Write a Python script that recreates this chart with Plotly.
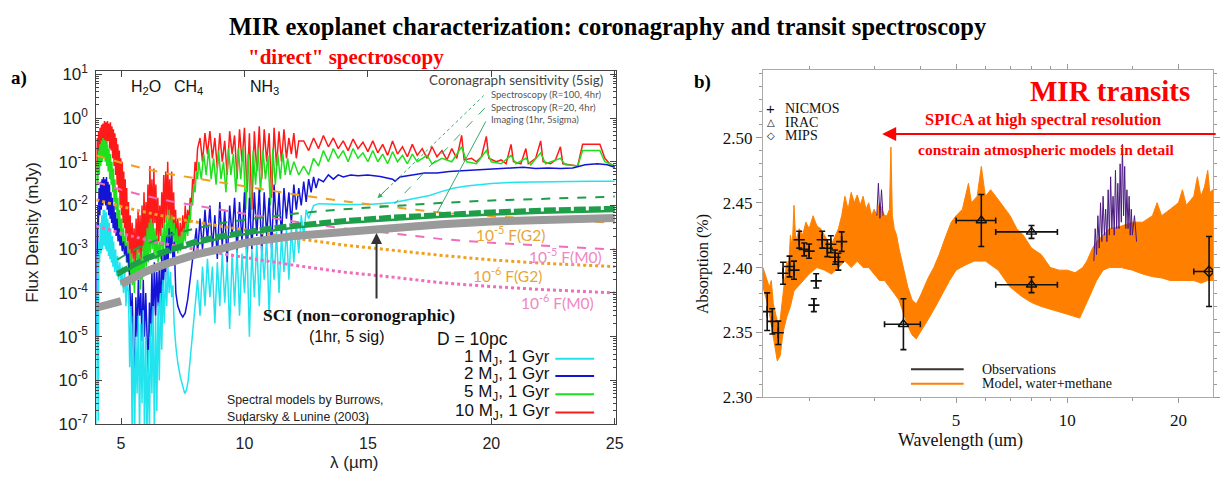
import math
import plotly.graph_objects as go

# ---------------- panel a) model spectra at 10 pc : (wavelength um, flux mJy) ----------------
spec_10mj = [
    (4.00, 0.06), (4.03, 0.35), (4.06, 0.08), (4.09, 0.5), (4.12, 0.12), (4.15, 0.6), (4.18, 0.15),
    (4.21, 0.7), (4.24, 0.2), (4.27, 0.75), (4.30, 0.25), (4.33, 0.85), (4.36, 0.3), (4.39, 0.8),
    (4.42, 0.25), (4.45, 0.85), (4.48, 0.3), (4.51, 0.75), (4.54, 0.2), (4.57, 0.8), (4.60, 0.18),
    (4.63, 0.65), (4.66, 0.12), (4.69, 0.55), (4.72, 0.08), (4.75, 0.45), (4.78, 0.05), (4.81, 0.35),
    (4.84, 0.03), (4.87, 0.25), (4.90, 0.02), (4.93, 0.18), (4.96, 0.01), (4.99, 0.12), (5.02, 0.006),
    (5.05, 0.1), (5.08, 0.004), (5.11, 0.06), (5.14, 0.003), (5.17, 0.04), (5.20, 0.002),
    (5.23, 0.025), (5.26, 0.0015), (5.30, 0.012),
    (5.33, 0.0008), (5.37, 0.006), (5.41, 0.0005), (5.45, 0.004), (5.49, 0.0006), (5.53, 0.003),
    (5.57, 0.0004), (5.61, 0.005), (5.65, 0.0006), (5.69, 0.008), (5.73, 0.0008), (5.77, 0.006),
    (5.81, 0.0005), (5.85, 0.01), (5.89, 0.0009), (5.93, 0.02), (5.97, 0.001), (6.01, 0.012),
    (6.05, 0.0015), (6.09, 0.03), (6.13, 0.002), (6.17, 0.08), (6.21, 0.003), (6.25, 0.04),
    (6.29, 0.002), (6.33, 0.07), (6.37, 0.004), (6.41, 0.03), (6.45, 0.002), (6.49, 0.015),
    (6.53, 0.0015), (6.57, 0.01), (6.61, 0.002), (6.65, 0.02), (6.69, 0.003), (6.73, 0.05),
    (6.77, 0.004), (6.81, 0.06), (6.85, 0.005), (6.89, 0.1), (6.93, 0.006), (6.97, 0.04),
    (7.01, 0.004), (7.05, 0.06), (7.09, 0.003), (7.13, 0.02), (7.17, 0.002), (7.21, 0.008),
    (7.25, 0.0015), (7.30, 0.005), (7.35, 0.0012), (7.40, 0.004), (7.45, 0.0015), (7.50, 0.006),
    (7.55, 0.002), (7.60, 0.01), (7.65, 0.003), (7.70, 0.008), (7.75, 0.004), (7.80, 0.015),
    (7.85, 0.01), (7.90, 0.04), (7.95, 0.03), (8.00, 0.1), (8.05, 0.06), (8.10, 0.2),
    (8.2, 0.35), (8.3, 0.1), (8.4, 0.45), (8.5, 0.15), (8.6, 0.5), (8.7, 0.12), (8.8, 0.35),
    (8.9, 0.07), (9.0, 0.45), (9.1, 0.1), (9.2, 0.3), (9.3, 0.05), (9.4, 0.5), (9.5, 0.15),
    (9.6, 0.4), (9.7, 0.04), (9.8, 0.55), (9.9, 0.1), (10.0, 0.6), (10.1, 0.02), (10.2, 0.45),
    (10.3, 0.008), (10.4, 0.5), (10.5, 0.06), (10.6, 0.65), (10.7, 0.04), (10.8, 0.55), (10.9, 0.1),
    (11.0, 0.45), (11.1, 0.015), (11.2, 0.6), (11.3, 0.08), (11.4, 0.5), (11.5, 0.1), (11.6, 0.55),
    (11.7, 0.12), (11.8, 0.35), (11.9, 0.15), (12.0, 0.45), (12.1, 0.12), (12.2, 0.3),
    (12.4, 0.3), (12.6, 0.18), (12.8, 0.35), (13.0, 0.2), (13.2, 0.4), (13.4, 0.22), (13.6, 0.35),
    (13.8, 0.2), (14.0, 0.3), (14.2, 0.18), (14.4, 0.33), (14.6, 0.2), (14.8, 0.28), (15.0, 0.17),
    (15.2, 0.3), (15.4, 0.16), (15.6, 0.25), (15.8, 0.14), (16.0, 0.3), (16.2, 0.15), (16.4, 0.22),
    (16.6, 0.13), (16.8, 0.25), (17.0, 0.14), (17.2, 0.2), (17.4, 0.12), (17.6, 0.22), (17.8, 0.13),
    (18.0, 0.18), (18.2, 0.11), (18.4, 0.2), (18.6, 0.12), (18.8, 0.4), (18.9, 0.11), (19.2, 0.12),
    (19.4, 0.1), (19.6, 0.13), (19.8, 0.38), (19.9, 0.12), (20.2, 0.1), (20.4, 0.11), (20.6, 0.09),
    (20.8, 0.25), (20.9, 0.1), (21.2, 0.09), (21.4, 0.2), (21.5, 0.09), (21.8, 0.12), (22.0, 0.3),
    (22.1, 0.1), (22.4, 0.09), (22.6, 0.11), (22.8, 0.22), (22.9, 0.09), (23.2, 0.085), (23.5, 0.08),
    (23.7, 0.25), (24.4, 0.25), (24.6, 0.12), (24.8, 0.09), (25.0, 0.08),
]

spec_5mj = [
    (4.00, 0.02), (4.03, 0.1), (4.06, 0.03), (4.09, 0.18), (4.12, 0.05), (4.15, 0.25), (4.18, 0.08),
    (4.21, 0.3), (4.24, 0.1), (4.27, 0.35), (4.30, 0.12), (4.33, 0.32), (4.36, 0.1), (4.39, 0.3),
    (4.42, 0.08), (4.45, 0.25), (4.48, 0.06), (4.51, 0.2), (4.54, 0.04), (4.57, 0.15), (4.60, 0.03),
    (4.63, 0.1), (4.66, 0.02), (4.69, 0.07), (4.72, 0.012), (4.75, 0.04), (4.78, 0.008), (4.81, 0.025),
    (4.84, 0.005), (4.87, 0.015), (4.90, 0.003), (4.94, 0.008), (4.98, 0.002), (5.02, 0.005),
    (5.06, 0.0012), (5.10, 0.003), (5.14, 0.0008), (5.18, 0.002), (5.22, 0.0005),
    (5.26, 0.0015), (5.30, 0.0003), (5.34, 0.001), (5.38, 0.0002), (5.42, 0.0008), (5.46, 0.00015),
    (5.50, 0.0006), (5.54, 0.0001), (5.58, 0.0005), (5.62, 0.0002), (5.66, 0.001), (5.70, 0.0003),
    (5.74, 0.0008), (5.78, 0.00012), (5.82, 0.0006), (5.86, 0.0002), (5.90, 0.0012), (5.94, 0.0003),
    (5.98, 0.002), (6.02, 0.0004), (6.06, 0.003), (6.10, 0.0005), (6.14, 0.004), (6.18, 0.0008),
    (6.22, 0.005), (6.26, 0.001), (6.30, 0.004), (6.34, 0.0008), (6.38, 0.003), (6.42, 0.0006),
    (6.46, 0.002), (6.50, 0.0005), (6.55, 0.0015), (6.60, 0.0006), (6.65, 0.003), (6.70, 0.0008),
    (6.75, 0.004), (6.80, 0.001), (6.85, 0.006), (6.90, 0.0015), (6.95, 0.008), (7.00, 0.002),
    (7.05, 0.006), (7.10, 0.0015), (7.15, 0.004), (7.20, 0.001), (7.25, 0.003), (7.30, 0.0008),
    (7.35, 0.002), (7.40, 0.0009), (7.45, 0.0025), (7.50, 0.001), (7.55, 0.003), (7.60, 0.0015),
    (7.65, 0.004), (7.70, 0.002), (7.75, 0.006), (7.80, 0.004), (7.85, 0.012), (7.90, 0.01),
    (7.95, 0.03), (8.00, 0.02), (8.05, 0.06), (8.10, 0.04), (8.15, 0.1),
    (8.25, 0.04), (8.35, 0.15), (8.45, 0.05), (8.55, 0.2), (8.65, 0.04), (8.75, 0.12), (8.85, 0.03),
    (8.95, 0.18), (9.05, 0.04), (9.15, 0.1), (9.25, 0.02), (9.35, 0.2), (9.45, 0.05), (9.55, 0.15),
    (9.65, 0.02), (9.75, 0.2), (9.85, 0.04), (9.95, 0.22), (10.05, 0.008), (10.15, 0.15),
    (10.25, 0.005), (10.35, 0.18), (10.45, 0.03), (10.55, 0.2), (10.65, 0.02), (10.75, 0.18),
    (10.85, 0.04), (10.95, 0.14), (11.05, 0.01), (11.15, 0.2), (11.25, 0.03), (11.35, 0.15),
    (11.45, 0.04), (11.55, 0.16), (11.65, 0.05), (11.75, 0.12), (11.85, 0.05), (12.0, 0.1),
    (12.2, 0.05), (12.4, 0.08), (12.6, 0.05), (12.8, 0.12), (13.0, 0.08), (13.2, 0.18), (13.4, 0.1),
    (13.6, 0.2), (13.8, 0.12), (14.0, 0.18), (14.2, 0.1), (14.4, 0.2), (14.6, 0.12), (14.8, 0.16),
    (15.0, 0.1), (15.2, 0.18), (15.4, 0.1), (15.6, 0.15), (15.8, 0.09), (16.0, 0.17), (16.2, 0.1),
    (16.4, 0.14), (16.6, 0.09), (16.8, 0.15), (17.0, 0.1), (17.4, 0.14), (17.6, 0.09), (18.0, 0.12),
    (18.4, 0.1), (18.8, 0.22), (19.0, 0.1), (19.4, 0.09), (19.8, 0.18), (20.0, 0.1), (20.4, 0.09),
    (20.8, 0.14), (21.0, 0.09), (21.4, 0.12), (21.6, 0.085), (22.0, 0.16), (22.2, 0.09), (22.8, 0.12),
    (23.0, 0.085), (23.5, 0.08), (23.7, 0.18), (24.4, 0.18), (24.6, 0.1), (25.0, 0.08),
]

spec_2mj = [
    (4.00, 1e-5), (4.02, 0.004), (4.04, 3e-5), (4.06, 0.01), (4.08, 0.003), (4.11, 0.025),
    (4.14, 0.006), (4.17, 0.035), (4.20, 0.008), (4.23, 0.04), (4.26, 0.01), (4.29, 0.045),
    (4.32, 0.012), (4.35, 0.04), (4.38, 0.01), (4.41, 0.045), (4.44, 0.008), (4.47, 0.035),
    (4.50, 0.006), (4.53, 0.03), (4.56, 0.005), (4.59, 0.02), (4.62, 0.004), (4.65, 0.015),
    (4.68, 0.003), (4.71, 0.01), (4.74, 0.0025), (4.77, 0.007), (4.80, 0.002), (4.84, 0.005),
    (4.88, 0.0015), (4.92, 0.003), (4.96, 0.0012), (5.00, 0.002), (5.05, 0.0009), (5.10, 0.0015),
    (5.15, 0.0007), (5.20, 0.0012), (5.25, 0.0005), (5.30, 0.0008),
    (5.35, 2e-4), (5.40, 2e-5), (5.45, 1e-4), (5.50, 5e-6), (5.55, 1.5e-6), (5.60, 8e-5),
    (5.65, 1e-5), (5.70, 2e-4), (5.75, 3e-5), (5.80, 1e-4), (5.85, 8e-6), (5.90, 2e-4),
    (5.95, 1e-5), (6.00, 1e-4), (6.05, 5e-6), (6.10, 1.5e-6), (6.15, 6e-5), (6.20, 1e-5),
    (6.25, 3e-4), (6.30, 2e-5), (6.35, 5e-4), (6.40, 3e-5), (6.45, 3e-4), (6.50, 5e-5),
    (6.55, 4e-4), (6.60, 3e-5), (6.65, 8e-4), (6.70, 1e-4), (6.75, 1e-3), (6.80, 2e-4),
    (6.85, 2e-3), (6.90, 4e-4), (6.95, 3e-3), (7.00, 8e-4), (7.05, 2.5e-3), (7.10, 6e-4),
    (7.15, 1.5e-3), (7.22, 1e-4), (7.30, 5e-5), (7.40, 3.5e-5), (7.50, 2.8e-5), (7.60, 3.5e-5),
    (7.70, 7e-5), (7.80, 2e-4), (7.90, 6e-4), (8.00, 2e-3),
    (8.05, 3e-3), (8.1, 8e-4), (8.2, 5e-3), (8.3, 1e-3), (8.4, 8e-3), (8.5, 1.5e-3), (8.6, 0.01),
    (8.7, 1e-3), (8.8, 6e-3), (8.9, 6e-4), (9.0, 0.012), (9.1, 1.2e-3), (9.2, 8e-3), (9.3, 5e-4),
    (9.4, 0.01), (9.5, 2e-3), (9.6, 0.015), (9.7, 8e-4), (9.8, 0.012), (9.9, 1.5e-3), (10.0, 0.02),
    (10.1, 5e-4), (10.2, 0.015), (10.3, 1e-3), (10.4, 0.02), (10.5, 2e-3), (10.6, 0.025),
    (10.7, 8e-4), (10.8, 0.02), (10.9, 2e-3), (11.0, 0.015), (11.1, 1e-3), (11.2, 0.03),
    (11.3, 3e-3), (11.4, 0.02), (11.5, 2e-3), (11.6, 0.025), (11.7, 5e-3), (11.8, 0.02),
    (11.9, 4e-3), (12.0, 0.03), (12.1, 8e-3), (12.2, 0.025), (12.3, 0.01), (12.4, 0.035),
    (12.5, 0.012), (12.6, 0.04), (12.7, 0.02), (12.8, 0.045), (12.9, 0.025), (13.0, 0.04),
    (13.2, 0.035), (13.4, 0.05), (13.6, 0.04), (13.8, 0.05), (14.0, 0.045), (14.3, 0.05),
    (14.6, 0.048), (15.0, 0.05), (15.5, 0.046), (16.0, 0.04), (16.1, 0.036), (16.3, 0.045),
    (16.8, 0.05), (17.3, 0.055), (17.8, 0.055), (18.3, 0.06), (18.8, 0.062), (19.3, 0.065),
    (19.8, 0.068), (20.3, 0.07), (20.8, 0.072), (21.3, 0.075), (21.8, 0.07), (22.3, 0.072),
    (22.8, 0.07), (23.3, 0.072), (23.8, 0.085), (24.3, 0.09), (24.7, 0.085), (25.0, 0.075),
]

spec_1mj = [
    (4.00, 5e-8), (4.02, 1e-4), (4.04, 2e-6), (4.06, 8e-4), (4.08, 1.2e-7), (4.10, 1.5e-3),
    (4.13, 5e-4), (4.16, 4e-3), (4.19, 8e-4), (4.22, 6e-3), (4.25, 1e-3), (4.28, 8e-3),
    (4.31, 1.2e-3), (4.34, 8e-3), (4.37, 1e-3), (4.40, 7e-3), (4.43, 9e-4), (4.46, 5e-3),
    (4.49, 7e-4), (4.52, 4e-3), (4.55, 6e-4), (4.58, 3e-3), (4.61, 5e-4), (4.64, 2e-3),
    (4.67, 4e-4), (4.70, 1.5e-3), (4.74, 3e-4), (4.78, 1e-3), (4.82, 2.5e-4), (4.86, 7e-4),
    (4.90, 2e-4), (4.95, 5e-4), (5.00, 1.5e-4), (5.05, 4e-4), (5.10, 1e-4), (5.15, 3e-4),
    (5.20, 5e-5), (5.25, 2e-4),
    (5.30, 1e-4), (5.35, 2e-6), (5.40, 5e-5), (5.45, 5e-8), (5.50, 3e-5), (5.55, 5e-8),
    (5.60, 1e-5), (5.65, 5e-7), (5.70, 3e-5), (5.75, 5e-8), (5.80, 2e-5), (5.85, 3e-7),
    (5.90, 4e-5), (5.95, 5e-8), (6.00, 1e-5), (6.05, 5e-8), (6.10, 5e-6), (6.15, 5e-8),
    (6.20, 2e-5), (6.25, 5e-7), (6.30, 5e-5), (6.35, 5e-8), (6.40, 3e-5), (6.45, 2e-7),
    (6.50, 6e-5), (6.55, 1e-6), (6.60, 1e-4), (6.65, 5e-6), (6.70, 2e-4), (6.75, 2e-5),
    (6.80, 3e-4), (6.85, 5e-5), (6.90, 4e-4), (6.95, 1e-4), (7.00, 3e-4), (7.05, 8e-5),
    (7.10, 1.5e-4), (7.15, 2e-5), (7.22, 6e-6), (7.30, 2.5e-6), (7.40, 1.2e-6), (7.50, 7e-7),
    (7.58, 5e-7), (7.65, 6e-7), (7.72, 1e-6), (7.80, 3e-6), (7.90, 1.5e-5), (8.00, 5e-5),
    (8.1, 2e-4), (8.2, 3e-5), (8.3, 4e-4), (8.4, 5e-5), (8.5, 6e-4), (8.6, 8e-5), (8.7, 4e-4),
    (8.8, 2e-5), (8.9, 5e-4), (9.0, 5e-5), (9.1, 8e-4), (9.2, 6e-5), (9.3, 5e-4), (9.4, 1.5e-5),
    (9.5, 8e-4), (9.6, 5e-5), (9.7, 1e-3), (9.8, 3e-5), (9.9, 8e-4), (10.0, 1e-4), (10.1, 1.2e-3),
    (10.2, 1e-5), (10.3, 1e-3), (10.4, 8e-5), (10.5, 1.5e-3), (10.6, 5e-5), (10.7, 1.2e-3),
    (10.8, 2e-4), (10.9, 2e-3), (11.0, 3e-5), (11.1, 1.5e-3), (11.2, 2e-4), (11.3, 2.5e-3),
    (11.4, 1e-4), (11.5, 2e-3), (11.6, 3e-4), (11.7, 3e-3), (11.8, 2e-4), (11.9, 3e-3),
    (12.0, 5e-4), (12.1, 4e-3), (12.2, 8e-4), (12.3, 6e-3), (12.4, 2e-3), (12.5, 8e-3),
    (12.6, 5e-3), (12.8, 0.01),
    (13.0, 0.011), (14.0, 0.0105), (15.0, 0.0105), (16.0, 0.0115), (16.5, 0.013), (17.0, 0.0145),
    (17.5, 0.017), (18.0, 0.021), (18.5, 0.025), (19.0, 0.028), (19.5, 0.03), (20.0, 0.032),
    (21.0, 0.034), (22.0, 0.035), (23.0, 0.036), (24.0, 0.036), (25.0, 0.036),
]

# stellar photospheres scaled by contrast (mJy)
star_lam = [4, 5, 6, 7, 8, 9, 10, 12, 14, 16, 18, 20, 22, 25]
g2_1e5 = [0.14, 0.095, 0.068, 0.052, 0.042, 0.034, 0.027, 0.018, 0.0125, 0.0093, 0.0068, 0.0057, 0.0049, 0.004]
g2_1e6 = [0.0135, 0.0095, 0.007, 0.0053, 0.0042, 0.0034, 0.0027, 0.0018, 0.00125, 0.00095, 0.00072, 0.00057, 0.00048, 0.0004]
m0_1e5 = [0.034, 0.023, 0.0165, 0.0125, 0.01, 0.0082, 0.0065, 0.0043, 0.003, 0.0023, 0.0017, 0.0014, 0.0012, 0.00098]
m0_1e6 = [0.0034, 0.0023, 0.00165, 0.00125, 0.001, 0.00082, 0.00065, 0.00043, 0.0003, 0.00023, 0.00017, 0.00014, 0.00012, 0.0001]

# coronagraph 5-sigma sensitivities (mJy)
det_lam = [4.85, 5.5, 6, 7, 8, 9, 10, 11, 12, 14, 16, 18, 20, 22, 25]
sens_r100 = [5.8e-4, 9.5e-4, 1.3e-3, 2.1e-3, 3.0e-3, 3.9e-3, 4.7e-3, 5.6e-3, 6.5e-3, 8.2e-3, 9.8e-3, 0.0115, 0.013, 0.0143, 0.016]
sens_r20 = [2.8e-4, 4.6e-4, 6.3e-4, 1.0e-3, 1.5e-3, 2.0e-3, 2.5e-3, 3.0e-3, 3.5e-3, 4.5e-3, 5.4e-3, 6.3e-3, 7.1e-3, 7.8e-3, 8.6e-3]
sens_img = [2.45e-4, 4.0e-4, 5.5e-4, 8.8e-4, 1.3e-3, 1.75e-3, 2.2e-3, 2.65e-3, 3.1e-3, 3.95e-3, 4.75e-3, 5.5e-3, 6.2e-3, 6.8e-3, 7.5e-3]

# SCI non-coronagraphic 5-sigma, 1 hr (two detector bands)
sci_lam_a = [4.0, 4.5, 5.0]
sci_flux_a = [4.6e-5, 5.5e-5, 6.5e-5]
sci_lam_b = [5.0, 5.5, 6.0, 7.0, 8.0, 9.0, 10.0, 12.0, 14.0, 16.0, 18.0, 20.0, 22.0, 25.0]
sci_flux_b = [1.6e-4, 2.3e-4, 3.1e-4, 5.0e-4, 7.5e-4, 1.0e-3, 1.4e-3, 2.0e-3, 2.5e-3, 3.1e-3, 3.7e-3, 4.3e-3, 4.7e-3, 5.2e-3]

flux_tick_exp = [-7, -6, -5, -4, -3, -2, -1, 0, 1]
lam_ticks_a = [5, 10, 15, 20, 25]

# ---------------- panel b) transit absorption depth (%) ----------------
model_upper = [
    (1.50, 2.400), (1.53, 2.392), (1.56, 2.385), (1.58, 2.39), (1.60, 2.372), (1.63, 2.362),
    (1.65, 2.356), (1.67, 2.36), (1.70, 2.38), (1.72, 2.392), (1.74, 2.405), (1.76, 2.40),
    (1.78, 2.425), (1.80, 2.415), (1.82, 2.448), (1.84, 2.42), (1.88, 2.43), (1.92, 2.425),
    (1.96, 2.435), (2.00, 2.43), (2.05, 2.44), (2.10, 2.432), (2.15, 2.43), (2.20, 2.425),
    (2.25, 2.42), (2.30, 2.418), (2.40, 2.43), (2.45, 2.44), (2.50, 2.455), (2.55, 2.445),
    (2.60, 2.458), (2.65, 2.45), (2.70, 2.456), (2.75, 2.448), (2.80, 2.455), (2.85, 2.445),
    (2.90, 2.45), (2.95, 2.44), (3.00, 2.445), (3.05, 2.44), (3.10, 2.45), (3.15, 2.445),
    (3.20, 2.44), (3.25, 2.44), (3.30, 2.445), (3.33, 2.493), (3.36, 2.44), (3.40, 2.43),
    (3.45, 2.425), (3.50, 2.415), (3.60, 2.40), (3.70, 2.385), (3.80, 2.375), (3.90, 2.372),
    (4.00, 2.378), (4.10, 2.385), (4.20, 2.392), (4.35, 2.40), (4.50, 2.41), (4.70, 2.425),
    (4.85, 2.435), (5.00, 2.44), (5.20, 2.445), (5.40, 2.465), (5.50, 2.45), (5.70, 2.455),
    (5.85, 2.478), (6.00, 2.455), (6.20, 2.46), (6.40, 2.455), (6.60, 2.45), (6.80, 2.445),
    (7.00, 2.44), (7.30, 2.43), (7.60, 2.425), (8.00, 2.415), (8.50, 2.41), (9.00, 2.40),
    (9.50, 2.398), (10.0, 2.398), (10.5, 2.396), (11.0, 2.40), (11.3, 2.405), (11.7, 2.415),
    (12.0, 2.42), (12.5, 2.425), (13.0, 2.43), (14.0, 2.432), (15.0, 2.435), (16.0, 2.435),
    (17.0, 2.44), (17.5, 2.45), (18.0, 2.44), (19.0, 2.445), (20.0, 2.45), (20.5, 2.46),
    (21.0, 2.448), (22.0, 2.455), (22.5, 2.47), (23.0, 2.455), (23.5, 2.462), (24.0, 2.475),
    (24.3, 2.458), (24.8, 2.46),
]
model_lower = [
    (1.50, 2.385), (1.55, 2.37), (1.60, 2.345), (1.64, 2.328), (1.67, 2.332), (1.70, 2.35),
    (1.74, 2.362), (1.78, 2.37), (1.82, 2.382), (1.90, 2.388), (2.00, 2.395), (2.10, 2.40),
    (2.20, 2.398), (2.30, 2.395), (2.40, 2.40), (2.50, 2.405), (2.60, 2.40), (2.70, 2.405),
    (2.80, 2.40), (2.90, 2.40), (3.00, 2.395), (3.10, 2.39), (3.20, 2.39), (3.30, 2.385),
    (3.40, 2.38), (3.50, 2.375), (3.60, 2.365), (3.70, 2.355), (3.80, 2.348), (3.90, 2.345),
    (4.00, 2.35), (4.20, 2.36), (4.40, 2.37), (4.60, 2.38), (4.80, 2.39), (5.00, 2.398),
    (5.30, 2.402), (5.60, 2.405), (6.00, 2.405), (6.50, 2.398), (7.00, 2.385), (7.50, 2.378),
    (8.00, 2.373), (8.50, 2.37), (9.00, 2.368), (9.50, 2.366), (10.0, 2.364), (10.8, 2.361),
    (11.0, 2.365), (11.5, 2.378), (12.0, 2.39), (12.5, 2.398), (13.0, 2.40), (14.0, 2.40),
    (15.0, 2.398), (16.0, 2.395), (17.0, 2.393), (18.0, 2.392), (19.0, 2.39), (20.0, 2.39),
    (21.0, 2.39), (22.0, 2.39), (23.0, 2.388), (24.0, 2.39), (24.8, 2.39),
]
hires_segment = [
    (11.8, 2.405), (11.9, 2.43), (12.0, 2.41), (12.1, 2.44), (12.2, 2.415), (12.3, 2.45),
    (12.4, 2.42), (12.5, 2.455), (12.6, 2.425), (12.7, 2.445), (12.8, 2.42), (12.9, 2.46),
    (13.0, 2.425), (13.1, 2.47), (13.2, 2.43), (13.3, 2.455), (13.4, 2.425), (13.5, 2.475),
    (13.6, 2.43), (13.7, 2.465), (13.8, 2.43), (13.9, 2.48), (14.0, 2.435), (14.1, 2.495),
    (14.2, 2.44), (14.3, 2.478), (14.4, 2.43), (14.5, 2.46), (14.6, 2.43), (14.7, 2.455),
    (14.8, 2.425), (14.9, 2.445), (15.0, 2.425), (15.2, 2.44), (15.4, 2.42),
]
hires_nir = [(3.05, 2.44), (3.08, 2.465), (3.11, 2.438), (3.14, 2.46), (3.17, 2.44)]

nicmos_lam = [1.54, 1.59, 1.65, 1.70, 1.77, 1.82, 1.88, 1.94, 2.00, 2.06, 2.09, 2.17, 2.24, 2.29, 2.35, 2.40, 2.45]
nicmos_abs = [2.366, 2.3585, 2.3497, 2.3956, 2.4008, 2.398, 2.4215, 2.414, 2.4127, 2.371, 2.3897, 2.4215, 2.4149, 2.418, 2.408, 2.4045, 2.420]
nicmos_err = [0.0145, 0.0097, 0.009, 0.0085, 0.008, 0.007, 0.0065, 0.005, 0.0055, 0.005, 0.0055, 0.0065, 0.0065, 0.0065, 0.0055, 0.0065, 0.0075]

irac_lam = [3.6, 5.85, 8.0, 8.0]
irac_abs = [2.3563, 2.4363, 2.4275, 2.3867]
irac_err = [0.0196, 0.020, 0.005, 0.006]
irac_lo = [0.4, 0.85, 1.6, 1.6]
irac_hi = [0.4, 0.55, 1.4, 1.4]

mips_lam = [24.2]
mips_abs = [2.397]
mips_err = [0.027]
mips_lo = [2.2]
mips_hi = [0.7]

abs_ticks = [2.30, 2.35, 2.40, 2.45, 2.50]
lam_ticks_b = [5, 10, 20]

# ---------------- styling ----------------
W, H = 1223, 486
SERIF = "Liberation Serif"
SANS = "Liberation Sans"
CAL = "Lato"
RED, GREEN, BLUE, CYAN = "#ff1a1a", "#1fe01f", "#1414d6", "#22e4ef"
ORANGE_L, PINK_L = "#f0a020", "#f06cbc"
ORANGE_T, PINK_T = "#e6a636", "#ee88c2"
DET = "#1f9e4a"
MODEL = "#ff8000"
HIRES = "#4b1a80"


def px(x):
    return x / W


def py(y):
    return 1 - y / H


fig = go.Figure()


def line_a(x, y, color, width, dash="solid"):
    fig.add_trace(go.Scatter(x=list(x), y=list(y), mode="lines", xaxis="x", yaxis="y",
                             line=dict(color=color, width=width, dash=dash),
                             showlegend=False, hoverinfo="skip"))


for pts, col in [(spec_10mj, RED), (spec_5mj, GREEN), (spec_2mj, BLUE), (spec_1mj, CYAN)]:
    lam, flux = zip(*pts)
    line_a(lam, flux, col, 1.5)

line_a(star_lam, g2_1e5, ORANGE_L, 2, "dash")
line_a(star_lam, m0_1e5, PINK_L, 2, "dash")
line_a(star_lam, g2_1e6, ORANGE_L, 3, "dot")
line_a(star_lam, m0_1e6, PINK_L, 3, "dot")

line_a(sci_lam_a, sci_flux_a, "#9a9a9a", 8)
line_a(sci_lam_b, sci_flux_b, "#9a9a9a", 8)

line_a(det_lam, sens_r100, DET, 2, "dash")
line_a(det_lam, sens_img, DET, 2.5)
line_a(det_lam, sens_r20, DET, 5, "12px,3px")


def line_b(pts, color, width):
    lam, val = zip(*pts)
    fig.add_trace(go.Scatter(x=list(lam), y=list(val), mode="lines", xaxis="x2", yaxis="y2",
                             line=dict(color=color, width=width), showlegend=False, hoverinfo="skip"))


up_l, up_v = zip(*model_upper)
lo_l, lo_v = zip(*model_lower)
fig.add_trace(go.Scatter(x=list(up_l) + list(lo_l)[::-1], y=list(up_v) + list(lo_v)[::-1],
                         mode="lines", fill="toself", fillcolor=MODEL,
                         line=dict(color=MODEL, width=1), xaxis="x2", yaxis="y2",
                         showlegend=False, hoverinfo="skip"))
line_b(hires_segment, HIRES, 1)
line_b(hires_nir, HIRES, 1)

err_style = dict(type="data", color="#111", thickness=1.6, width=3)
fig.add_trace(go.Scatter(x=nicmos_lam, y=nicmos_abs, mode="markers", xaxis="x2", yaxis="y2",
                         marker=dict(symbol="cross-thin", size=8, color="#111", line=dict(color="#111", width=1.6)),
                         error_y=dict(array=nicmos_err, **err_style), showlegend=False, hoverinfo="skip"))
fig.add_trace(go.Scatter(x=irac_lam, y=irac_abs, mode="markers", xaxis="x2", yaxis="y2",
                         marker=dict(symbol="triangle-up-open", size=9, color="#111", line=dict(width=1.4)),
                         error_y=dict(array=irac_err, **err_style),
                         error_x=dict(array=irac_hi, arrayminus=irac_lo, symmetric=False, **err_style),
                         showlegend=False, hoverinfo="skip"))
fig.add_trace(go.Scatter(x=mips_lam, y=mips_abs, mode="markers", xaxis="x2", yaxis="y2",
                         marker=dict(symbol="diamond-open", size=8, color="#111", line=dict(width=1.4)),
                         error_y=dict(array=mips_err, **err_style),
                         error_x=dict(array=mips_hi, arrayminus=mips_lo, symmetric=False, **err_style),
                         showlegend=False, hoverinfo="skip"))

# ---------------- annotations ----------------
ann = []


def txt(x, y, s, size, color="#111", family=SANS, xanchor="center", angle=0):
    ann.append(dict(x=px(x), y=py(y), xref="paper", yref="paper", text=s, showarrow=False,
                    font=dict(family=family, size=size, color=color), xanchor=xanchor,
                    yanchor="middle", textangle=angle))


def arrow(xh, yh, xt, yt, color, width, head=2, size=1.0):
    ann.append(dict(x=px(xh), y=py(yh), xref="paper", yref="paper", text="", showarrow=True,
                    ax=xt - xh, ay=yt - yh, arrowcolor=color, arrowwidth=width,
                    arrowhead=head, arrowsize=size))


txt(612, 18, "<b>MIR exoplanet characterization: coronagraphy and transit spectroscopy</b>", 24.5, "#000", SERIF)
txt(348, 50, '<b>"direct" spectroscopy</b>', 21, "#ff0000", SERIF)
txt(19, 72, "<b>a)</b>", 19, "#000", SERIF)
txt(707, 76, "<b>b)</b>", 19, "#000", SERIF)

txt(147, 82, "H<sub>2</sub>O", 16)
txt(190, 82, "CH<sub>4</sub>", 16)
txt(266, 82, "NH<sub>3</sub>", 16)
txt(519, 74, "Coronagraph sensitivity (5sig)", 13.5, "#444", CAL)
txt(492, 89, "Spectroscopy (R=100, 4hr)", 9.5, "#555", CAL, "left")
txt(492, 102, "Spectroscopy (R=20, 4hr)", 9.5, "#555", CAL, "left")
txt(492, 115, "Imaging (1hr, 5sigma)", 9.5, "#555", CAL, "left")

txt(514, 234, "10<sup>-5</sup> F(G2)", 15.5, ORANGE_T, CAL)
txt(569, 257, "10<sup>-5</sup> F(M0)", 15.5, PINK_T, CAL)
txt(511, 276, "10<sup>-6</sup> F(G2)", 15.5, ORANGE_T, CAL)
txt(561, 304, "10<sup>-6</sup> F(M0)", 15.5, PINK_T, CAL)

arrow(379, 233, 379, 300, "#333", 2, 2, 1.1)
txt(361, 318, "<b>SCI (non\u2212coronographic)</b>", 17.5, "#111", SERIF)
txt(349, 341, "(1hr, 5 sig)", 16)
txt(476, 343, "D = 10pc", 17.5)

legend_rows = [("1 M<sub>J</sub>, 1 Gyr", CYAN, 363), ("2 M<sub>J</sub>, 1 Gyr", BLUE, 381),
               ("5 M<sub>J</sub>, 1 Gyr", GREEN, 400), ("10 M<sub>J</sub>, 1 Gyr", RED, 419)]
for label, col, yy in legend_rows:
    txt(556, yy, label, 17, "#111", SANS, "right")

txt(226, 407, "Spectral models by Burrows,", 12.3, "#222", SANS, "left")
txt(226, 425, "Sudarsky &amp; Lunine (2003)", 12.3, "#222", SANS, "left")
txt(33, 232, "Flux Density (mJy)", 17, "#222", SANS, "center", -90)
txt(357, 472, "\u03bb (\u00b5m)", 17, "#222")

arrow(380, 197, 392, 185, "#3aa86a", 1, 2, 1.0)

txt(1117, 85, "<b>MIR transits</b>", 29, "#ff0000", SERIF)
txt(1050, 115, "<b>SPICA at high spectral resolution</b>", 16.5, "#ff0000", SERIF)
txt(1053, 146, "<b>constrain atmospheric models in detail</b>", 15.5, "#ff0000", SERIF)
arrow(888, 130, 1223, 130, "#ff0000", 2, 2, 1.4)

txt(776, 104, "+", 15, "#111", SANS)
txt(776, 118, "\u25b3", 10, "#111", "DejaVu Sans")
txt(776, 132, "\u25c7", 10, "#111", "DejaVu Sans")
txt(788, 104, "NICMOS", 14, "#111", SERIF, "left")
txt(788, 118, "IRAC", 14, "#111", SERIF, "left")
txt(788, 132, "MIPS", 14, "#111", SERIF, "left")
txt(986, 375, "Observations", 14, "#111", SERIF, "left")
txt(986, 390, "Model, water+methane", 14, "#111", SERIF, "left")
txt(707, 265, "Absorption (%)", 16, "#111", SERIF, "center", -90)
txt(967, 449, "Wavelength (um)", 18, "#111", SERIF)

# ---------------- shapes (legend swatches, pointer lines) ----------------
shapes = []


def seg(x0, y0, x1, y1, color, width, dash="solid"):
    shapes.append(dict(type="line", xref="paper", yref="paper", x0=px(x0), y0=py(y0),
                       x1=px(x1), y1=py(y1), line=dict(color=color, width=width, dash=dash)))


for label, col, yy in legend_rows:
    seg(559, yy + 1, 598, yy + 1, col, 2)
seg(487, 90, 381, 196, "#3aa86a", 1, "dot")
seg(488, 103, 397, 203, "#3aa86a", 1, "dash")
seg(489, 117, 440, 212, "#3aa86a", 1)
seg(917, 375, 970, 375, "#333", 2)
seg(917, 390, 970, 390, MODEL, 2)

# ---------------- axes ----------------
minor_log = [k * 10.0 ** e for e in range(-7, 1) for k in range(2, 10)]

fig.update_layout(
    width=W, height=H, margin=dict(l=0, r=0, t=0, b=0),
    paper_bgcolor="white", plot_bgcolor="white", showlegend=False,
    annotations=ann, shapes=shapes,
    xaxis=dict(domain=[px(97), px(620)], range=[4, 25.05], anchor="y",
               tickvals=lam_ticks_a, ticktext=[str(v) for v in lam_ticks_a],
               ticks="inside", ticklen=6, tickcolor="#444", showline=True, linecolor="#444",
               linewidth=1, mirror="ticks", showgrid=False, zeroline=False, ticklabelstandoff=5,
               tickfont=dict(family=SANS, size=16, color="#222")),
    yaxis=dict(domain=[py(432), py(65)], type="log", range=[-7, 1.065], anchor="x",
               tickvals=[10.0 ** e for e in flux_tick_exp],
               ticktext=["10<sup>%d</sup>" % e for e in flux_tick_exp],
               ticks="inside", ticklen=6, tickcolor="#444", showline=True, linecolor="#444",
               linewidth=1, mirror="ticks", showgrid=False, zeroline=False, ticklabelstandoff=4,
               minor=dict(tickvals=minor_log, ticks="inside", ticklen=3, tickcolor="#444", showgrid=False),
               tickfont=dict(family=SANS, size=17, color="#222")),
    xaxis2=dict(domain=[px(768), px(1221)], type="log",
                range=[math.log10(1.5), math.log10(24.8)], anchor="y2",
                tickvals=lam_ticks_b, ticktext=[str(v) for v in lam_ticks_b],
                ticks="outside", ticklen=5, tickcolor="#999", showline=True, linecolor="#aaa",
                linewidth=1, mirror="ticks", showgrid=False, zeroline=False, ticklabelstandoff=2,
                minor=dict(tickvals=[2, 3, 4, 6, 7, 8, 9, 15], ticks="outside", ticklen=3,
                           tickcolor="#999", showgrid=False),
                tickfont=dict(family=SERIF, size=17, color="#111")),
    yaxis2=dict(domain=[py(404), py(64)], range=[2.30, 2.552], anchor="x2",
                tickvals=abs_ticks, ticktext=["%.2f" % v for v in abs_ticks],
                ticks="outside", ticklen=6, tickcolor="#999", showline=True, linecolor="#aaa",
                linewidth=1, mirror="ticks", showgrid=False, zeroline=False,
                minor=dict(dtick=0.01, tick0=2.30, ticks="outside", ticklen=3, tickcolor="#999", showgrid=False),
                tickfont=dict(family=SERIF, size=17, color="#111")),
)

fig.write_html("out.html")
